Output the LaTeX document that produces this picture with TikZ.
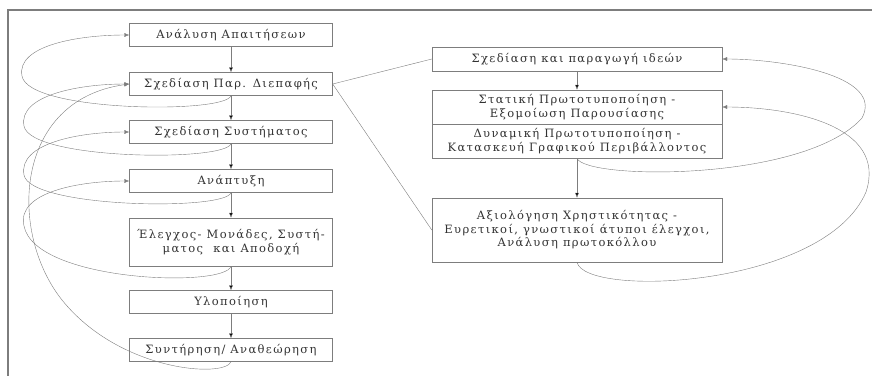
\documentclass[tikz,border=0pt]{standalone}
\usepackage{fontspec}
\setmainfont{DejaVu Serif}[LetterSpace=12]
\usetikzlibrary{arrows.meta}
\definecolor{linegray}{RGB}{125,125,125}
\definecolor{textgray}{RGB}{50,50,50}
\tikzset{
	stage/.style={draw=linegray, minimum width=203pt, minimum height=23pt, inner sep=2pt,
		align=center, text=textgray, font=\fontsize{11.5}{13.5}\selectfont},
	proto/.style={stage, minimum width=290pt},
	flow/.style={draw=linegray, -{Latex[length=5pt,width=4pt]}},
	link/.style={draw=linegray}
}

\begin{document}
\begin{tikzpicture}[x=1pt, y=-1pt]
	\useasboundingbox (0,0) rectangle (872,376);
	\draw[linegray, line width=1.2pt] (872,10) -- (8,10) -- (8,376);

	\node[stage] (s1) at (231,35) {Ανάλυση Απαιτήσεων};
	\node[stage] (s2) [node distance = 49pt] [below of = s1] {Σχεδίαση Παρ. Διεπαφής};
	\node[stage] (s3) [node distance = 48pt] [below of = s2] {Σχεδίαση Συστήματος};
	\node[stage] (s4) [node distance = 49pt] [below of = s3] {Ανάπτυξη};
	\node[stage, minimum height=48pt] (s5) [node distance = 61pt] [below of = s4] {Έλεγχος- Μονάδες, Συστή-\\ματος \ και Αποδοχή};
	\node[stage] (s6) [node distance = 60pt] [below of = s5] {Υλοποίηση};
	\node[stage] (s7) [node distance = 48pt] [below of = s6] {Συντήρηση/ Αναθεώρηση};

	\node[proto, minimum height=24pt] (a) at (577,59) {Σχεδίαση και παραγωγή ιδεών};
	\node[proto, minimum height=34pt] (b1) [node distance = 48pt] [below of = a] {Στατική Πρωτοτυποποίηση -\\Εξομοίωση Παρουσίασης};
	\node[proto, minimum height=34pt] (b2) [node distance = 34pt] [below of = b1] {Δυναμική Πρωτοτυποποίηση -\\Κατασκευή Γραφικού Περιβάλλοντος};
	\node[proto, minimum height=64pt] (c) [node distance = 89pt] [below of = b2] {Αξιολόγηση Χρηστικότητας -\\Ευρετικοί, γνωστικοί άτυποι έλεγχοι,\\Ανάλυση πρωτοκόλλου};

	\path[flow] (s1) edge (s2) (s2) edge (s3) (s3) edge (s4) (s4) edge (s5)
		(s5) edge (s6) (s6) edge (s7);
	\path[flow] (a) edge (b1) (b2) edge (c);
	\path[link] (s2.east) edge (a.west) (s2.east) edge (c.west);

	\draw[flow] (s2.south) .. controls (225,114) and (28,112) .. (22,76) .. controls (16,45) and (80,35) .. (s1.west);
	\draw[flow] (s3.south) .. controls (225,162) and (30,160) .. (24,126) .. controls (18,95) and (80,84) .. (s2.west);
	\draw[flow] (s4.south) .. controls (225,211) and (30,208) .. (24,175) .. controls (18,143) and (80,132) .. (s3.west);
	\draw[flow] (s5.south) .. controls (225,288) and (35,282) .. (24,226) .. controls (16,192) and (80,181) .. (s4.west);
	\draw[flow] (s7.south) .. controls (225,378) and (120,372) .. (62,300) .. controls (8,232) and (14,100) .. (s2.west);

	\draw[flow] (b2.south) .. controls (585,180) and (805,182) .. (862,118) .. controls (885,75) and (780,59) .. (a.east);
	\draw[flow] (c.south) .. controls (585,298) and (825,288) .. (866,192) .. controls (888,125) and (790,107) .. (b1.east);
\end{tikzpicture}
\end{document}
